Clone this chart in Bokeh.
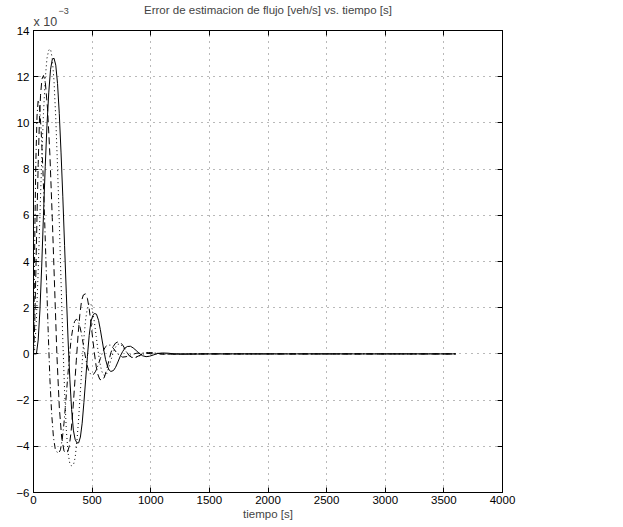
from bokeh.plotting import figure
from bokeh.models import LinearAxis, FixedTicker, CustomJSTickFormatter, Range1d, Title
from bokeh.embed import file_html
from bokeh.resources import INLINE

# --- data (error in units of 1e-3 veh/s) ---
t_solid = [0, 25, 40, 55, 70, 85, 100, 115, 130, 145, 160, 175, 190, 205, 220, 235, 250, 265, 280, 295,
           310, 325, 340, 355, 370, 385, 400, 415, 430, 445, 460, 475, 490, 505, 520, 537, 555, 570, 585,
           600, 615, 630, 645, 660, 682, 700, 720, 740, 760, 780, 800, 827, 850, 875, 900, 930, 960, 990,
           1020, 1060, 1100, 1150, 1200, 1300, 1500, 2000, 3600]
v_solid = [0, 0, 0.6, 1.9, 3.8, 6.0, 8.1, 9.9, 11.3, 12.3, 12.75, 12.8, 12.5, 11.7, 10.4, 8.7, 6.8, 4.7, 2.6, 0.6,
           -1.1, -2.4, -3.3, -3.7, -3.85, -3.85, -3.6, -3.0, -2.1, -1.1, -0.1, 0.8, 1.4, 1.65, 1.75, 1.72, 1.45, 1.05, 0.6,
           0.15, -0.25, -0.52, -0.7, -0.76, -0.72, -0.58, -0.35, -0.1, 0.1, 0.25, 0.32, 0.33, 0.26, 0.15, 0.03, -0.08, -0.12, -0.1,
           -0.05, 0.02, 0.04, 0.03, 0.0, -0.01, 0, 0, 0]

t_dot = [0, 10, 25, 40, 55, 70, 85, 100, 115, 130, 145, 160, 175, 190, 205, 220, 235, 250, 265, 280, 295, 310, 325,
         341, 355, 370, 385, 400, 415, 430, 445, 460, 475, 490, 505, 520, 535, 550, 565, 580, 595, 610, 625, 640,
         660, 680, 700, 720, 740, 760, 785, 810, 840, 870, 900, 940, 980, 1030, 1100, 1200, 1400, 2000, 3600]
v_dot = [0, 0.2, 1.5, 3.6, 6.0, 8.4, 10.4, 11.9, 12.8, 13.15, 13.2, 12.8, 11.8, 10.2, 8.1, 5.7, 3.1, 0.6, -1.6, -3.3, -4.3, -4.75, -4.85,
         -4.8, -4.5, -3.8, -2.8, -1.6, -0.4, 0.7, 1.5, 2.0, 2.2, 2.15, 1.85, 1.35, 0.75, 0.15, -0.35, -0.72, -0.9, -0.95, -0.85, -0.62,
         -0.28, 0.06, 0.3, 0.42, 0.42, 0.32, 0.14, -0.04, -0.15, -0.16, -0.1, 0.0, 0.05, 0.04, 0.0, -0.01, 0, 0, 0]

t_dash = [0, 10, 20, 30, 40, 50, 60, 72, 85, 100, 120, 140, 160, 180, 200, 220, 240, 260, 275, 290, 305, 320, 335,
          350, 365, 380, 395, 410, 425, 443, 460, 475, 490, 505, 520, 535, 550, 565, 588, 605, 620, 640, 660, 680,
          700, 720, 742, 765, 790, 815, 840, 870, 900, 940, 980, 1030, 1100, 1200, 1400, 2000, 3600]
v_dash = [0, 1.2, 3.5, 6.0, 8.2, 10.0, 11.2, 11.9, 12.05, 11.8, 10.6, 8.6, 5.9, 2.9, -0.1, -2.3, -3.6, -4.2, -4.3, -4.25, -4.0, -3.4, -2.5,
          -1.4, -0.3, 0.8, 1.7, 2.3, 2.55, 2.6, 2.4, 1.95, 1.35, 0.65, 0.0, -0.55, -0.9, -1.1, -1.15, -1.0, -0.75, -0.35, 0.05, 0.32,
          0.47, 0.52, 0.5, 0.35, 0.12, -0.07, -0.16, -0.15, -0.08, 0.02, 0.06, 0.04, 0.0, -0.01, 0, 0, 0]

t_dd = [0, 6, 12, 20, 30, 40, 52, 65, 80, 95, 110, 125, 140, 155, 170, 185, 200, 215, 230, 245, 260, 275, 290,
        305, 320, 335, 350, 365, 380, 395, 410, 425, 440, 455, 470, 490, 510, 530, 550, 570, 590, 610, 630, 655,
        680, 705, 730, 760, 790, 830, 880, 940, 1000, 1100, 1300, 2000, 3600]
v_dd = [0, 2.5, 5.5, 8.3, 10.3, 11.0, 10.7, 9.7, 8.0, 5.8, 3.4, 1.0, -1.1, -2.6, -3.6, -4.1, -4.25, -4.3, -4.15, -3.7, -3.0, -2.1, -1.1,
        -0.2, 0.6, 1.1, 1.4, 1.5, 1.45, 1.2, 0.85, 0.4, -0.05, -0.45, -0.72, -0.9, -0.9, -0.75, -0.5, -0.2, 0.08, 0.28, 0.38, 0.38,
        0.25, 0.08, -0.06, -0.14, -0.12, -0.04, 0.03, 0.04, 0.01, -0.01, 0, 0, 0]

x_ticks = [0, 500, 1000, 1500, 2000, 2500, 3000, 3500, 4000]
y_ticks = [-6, -4, -2, 0, 2, 4, 6, 8, 10, 12, 14]

title_text = "Error de estimacion de flujo [veh/s] vs. tiempo [s]"
xlabel_text = "tiempo [s]"

FONT = "Liberation Sans"

p = figure(width=615, height=522, output_backend="svg", toolbar_location=None, title=None,
           x_range=Range1d(0, 4000), y_range=Range1d(-6, 14),
           min_border_left=33, min_border_right=113, min_border_top=30, min_border_bottom=30)
p.background_fill_color = "white"
p.border_fill_color = "white"
p.outline_line_color = "black"
p.outline_line_width = 1

def style_axis(ax):
    ax.major_tick_in = 5
    ax.major_tick_out = 0
    ax.minor_tick_in = 0
    ax.minor_tick_out = 0
    ax.axis_line_color = "black"
    ax.major_tick_line_color = "black"
    ax.major_label_text_font = FONT
    ax.major_label_text_font_size = "11.5px"
    ax.major_label_text_color = "black"

p.xaxis.ticker = FixedTicker(ticks=x_ticks)
p.yaxis.ticker = FixedTicker(ticks=y_ticks)
style_axis(p.xaxis[0])
style_axis(p.yaxis[0])
p.xaxis.major_label_standoff = 3
p.yaxis.major_label_standoff = 4
p.xaxis.axis_label = xlabel_text
p.xaxis.axis_label_text_font = FONT
p.xaxis.axis_label_text_font_size = "11.5px"
p.xaxis.axis_label_text_font_style = "normal"
p.xaxis.axis_label_standoff = 1

p.xgrid.ticker = FixedTicker(ticks=x_ticks)
p.ygrid.ticker = FixedTicker(ticks=y_ticks)
for g in (p.xgrid[0], p.ygrid[0]):
    g.grid_line_color = "black"
    g.grid_line_alpha = 0.55
    g.grid_line_dash = "1 5"
    g.grid_line_width = 1

# box ticks on top and right, without labels
xt = LinearAxis(ticker=FixedTicker(ticks=x_ticks), formatter=CustomJSTickFormatter(code="return ''"))
yr = LinearAxis(ticker=FixedTicker(ticks=y_ticks), formatter=CustomJSTickFormatter(code="return ''"))
for ax in (xt, yr):
    style_axis(ax)
    ax.major_label_standoff = 0
p.add_layout(xt, "above")
p.add_layout(yr, "right")

p.line(t_dd, v_dd, line_color="black", line_width=1, line_dash="6 3 1 3")
p.line(t_dash, v_dash, line_color="black", line_width=1, line_dash="7 4")
p.line(t_dot, v_dot, line_color="black", line_width=1, line_dash="1 3")
p.line(t_solid, v_solid, line_color="black", line_width=1)

# texts above the frame (stacked from the frame outward)
p.add_layout(Title(text="x 10", align="left", text_font=FONT, text_font_size="12.5px",
                   text_font_style="normal", standoff=3), "above")
p.add_layout(Title(text="\u22123", align="left", offset=25, text_font=FONT, text_font_size="9px",
                   text_font_style="normal", standoff=-4), "above")
p.add_layout(Title(text=title_text, align="center", text_font=FONT, text_font_size="11.5px",
                   text_font_style="normal", standoff=-16), "above")

open("out.html", "w").write(file_html(p, INLINE))
